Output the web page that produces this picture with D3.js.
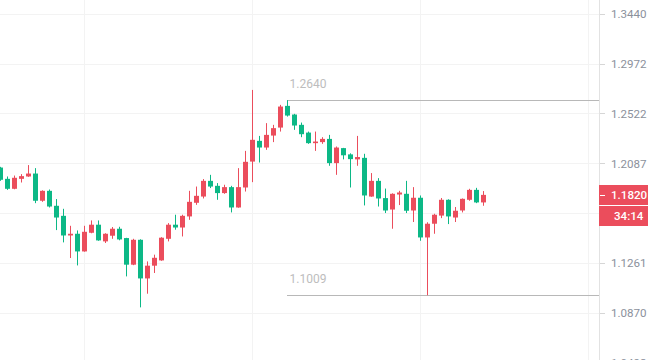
<!DOCTYPE html>
<html><head><meta charset="utf-8">
<script src="https://cdn.jsdelivr.net/npm/d3@7"></script>
<style>html,body{margin:0;padding:0;background:#fff;overflow:hidden}svg{display:block}</style>
</head><body><svg id="c" width="648" height="360"></svg>
<script>
// ---- data ----
const opens  = [1.2051,1.1955,1.1871,1.1955,1.1975,1.2000,1.1771,1.1854,1.1729,1.1646,
                1.1485,1.1499,1.1356,1.1507,1.1573,1.1437,1.1483,1.1540,1.1464,1.1250,
                1.1450,1.1141,1.1242,1.1284,1.1458,1.1573,1.1550,1.1641,1.1754,1.1806,
                1.1938,1.1896,1.1835,1.1885,1.1715,1.1882,1.2102,1.2281,1.2223,1.2327,
                1.2397,1.2589,1.2512,1.2421,1.2353,1.2261,1.2270,1.2298,1.2089,1.2218,
                1.2164,1.2121,1.2134,1.1806,1.1938,1.1793,1.1698,1.1823,1.1829,1.1690,
                1.1796,1.1469,1.1581,1.1648,1.1779,1.1632,1.1690,1.1779,1.1862,1.1757];
const highs  = [1.2057,1.1975,1.1983,1.1995,1.2072,1.2046,1.1858,1.1865,1.1785,1.1704,
                1.1564,1.1526,1.1564,1.1608,1.1608,1.1503,1.1554,1.1556,1.1466,1.1458,
                1.1454,1.1276,1.1330,1.1471,1.1586,1.1655,1.1655,1.1854,1.1890,1.1953,
                1.1989,1.1919,1.1905,1.1896,1.2046,1.2194,1.2732,1.2324,1.2436,1.2421,
                1.2598,1.2640,1.2518,1.2441,1.2362,1.2362,1.2313,1.2333,1.2232,1.2220,
                1.2173,1.2324,1.2169,1.2004,1.1961,1.1873,1.1833,1.1854,1.1938,1.1885,
                1.1815,1.1593,1.1663,1.1794,1.1783,1.1719,1.1790,1.1871,1.1879,1.1852];
const lows   = [1.1938,1.1862,1.1867,1.1924,1.1972,1.1751,1.1762,1.1715,1.1529,1.1429,
                1.1303,1.1244,1.1354,1.1503,1.1442,1.1424,1.1458,1.1446,1.1157,1.1246,
                1.0915,1.1021,1.1184,1.1281,1.1437,1.1532,1.1477,1.1613,1.1737,1.1790,
                1.1877,1.1779,1.1829,1.1674,1.1713,1.1848,1.1927,1.2094,1.2203,1.2270,
                1.2362,1.2494,1.2377,1.2313,1.2255,1.2194,1.2255,1.2066,1.1989,1.2121,
                1.1882,1.2066,1.1732,1.1804,1.1723,1.1669,1.1540,1.1735,1.1669,1.1595,
                1.1442,1.1009,1.1499,1.1627,1.1578,1.1595,1.1674,1.1771,1.1751,1.1729];
const closes = [1.1947,1.1871,1.1964,1.1978,1.2000,1.1771,1.1854,1.1723,1.1632,1.1485,
                1.1499,1.1356,1.1515,1.1573,1.1445,1.1499,1.1540,1.1453,1.1250,1.1450,
                1.1141,1.1242,1.1305,1.1467,1.1573,1.1550,1.1646,1.1762,1.1812,1.1938,
                1.1890,1.1835,1.1885,1.1715,1.1885,1.2100,1.2290,1.2223,1.2333,1.2392,
                1.2583,1.2503,1.2415,1.2339,1.2261,1.2275,1.2298,1.2089,1.2223,1.2156,
                1.2123,1.2141,1.1815,1.1938,1.1790,1.1690,1.1829,1.1840,1.1688,1.1796,
                1.1469,1.1581,1.1655,1.1779,1.1641,1.1688,1.1787,1.1862,1.1757,1.1820];
const yTickValues = [1.3440,1.2972,1.2522,1.2087,1.1666,1.1261,1.0870,1.0492];
const yTickLabels = ["1.3440","1.2972","1.2522","1.2087","1.1666","1.1261","1.0870","1.0492"];
const timeGridIdx = [12,36,60,84];
const highMarkIdx = 41, highMarkValue = 1.2640, highMarkLabel = "1.2640";
const lowMarkValue = 1.1009, lowMarkLabel = "1.1009";
const lastPrice = 1.1820, lastPriceLabel = "1.1820", countdownLabel = "34:14";

// ---- drawing ----
const W = 648, H = 360, plotRight = 599;
const UP = "#eb4d5c", DOWN = "#0cb886";
const svg = d3.select("#c");
const x = d3.scaleLinear().domain([0, 84]).range([0.5, 588.5]);
const y = d3.scaleLog().domain([1.0870, 1.3440]).range([313.2, 13.5]);
const font = "Roboto, 'Noto Sans', sans-serif";

const candles = opens.map((o, i) => ({i, o, h: highs[i], l: lows[i], c: closes[i]}));

// grid
const grid = svg.append("g");
grid.selectAll("line.h").data(yTickValues).join("line")
  .attr("x1", 0).attr("x2", plotRight)
  .attr("y1", d => Math.round(y(d)) + 0.5).attr("y2", d => Math.round(y(d)) + 0.5)
  .attr("stroke", "#f3f3f3").attr("stroke-width", 1);
grid.selectAll("line.v").data(timeGridIdx).join("line")
  .attr("x1", d => Math.floor(x(d)) + 0.5).attr("x2", d => Math.floor(x(d)) + 0.5)
  .attr("y1", 0).attr("y2", H)
  .attr("stroke", "#f3f3f3").attr("stroke-width", 1);

// high / low markers
const marks = svg.append("g");
[[highMarkValue, highMarkLabel], [lowMarkValue, lowMarkLabel]].forEach(([v, lab]) => {
  const yy = Math.round(y(v)) + 0.5;
  marks.append("line").attr("x1", Math.floor(x(highMarkIdx))).attr("x2", plotRight)
    .attr("y1", yy).attr("y2", yy).attr("stroke", "#b8b8b8").attr("stroke-width", 1);
  marks.append("text").attr("x", x(highMarkIdx) + 2).attr("y", yy - 12.5)
    .attr("font-family", font).attr("font-size", 12).attr("fill", "#bdbdbd").text(lab);
});

// candles
const cg = svg.append("g");
cg.selectAll("line.w").data(candles).join("line")
  .attr("x1", d => x(d.i)).attr("x2", d => x(d.i))
  .attr("y1", d => y(d.h)).attr("y2", d => y(d.l))
  .attr("stroke", d => d.c >= d.o ? UP : DOWN).attr("stroke-width", 1);
cg.selectAll("rect").data(candles).join("rect")
  .attr("x", d => x(d.i) - 2.5).attr("width", 5)
  .attr("y", d => y(Math.max(d.o, d.c)))
  .attr("height", d => Math.max(1, Math.abs(y(d.o) - y(d.c))))
  .attr("fill", d => d.c >= d.o ? UP : DOWN);

// right axis
const yp = y(lastPrice);
const boxTop = Math.round(yp) - 10, boxBottom = Math.round(yp) + 31;
const ax = svg.append("g");
ax.append("rect").attr("x", plotRight).attr("y", 0).attr("width", W - plotRight).attr("height", H).attr("fill", "#fff");
ax.append("line").attr("x1", plotRight + 0.5).attr("x2", plotRight + 0.5).attr("y1", 0).attr("y2", H)
  .attr("stroke", "#e2e2e2");
ax.selectAll("line.t").data(yTickValues).join("line")
  .attr("x1", plotRight + 1).attr("x2", plotRight + 6)
  .attr("y1", d => Math.round(y(d)) + 0.5).attr("y2", d => Math.round(y(d)) + 0.5)
  .attr("stroke", "#d6d6d6");
// labels hidden behind the last-price / countdown boxes are not drawn
const visibleTicks = yTickValues.map((v, i) => ({v, lab: yTickLabels[i]}))
  .filter(d => y(d.v) + 6 < boxTop || y(d.v) - 6 > boxBottom);
ax.selectAll("text.tl").data(visibleTicks).join("text")
  .attr("x", 611).attr("y", d => y(d.v) + 4.2)
  .attr("font-family", font).attr("font-size", 11.6).attr("fill", "#8b919c")
  .text(d => d.lab);

// last price box + countdown
ax.append("rect").attr("x", plotRight).attr("y", boxTop).attr("width", W - plotRight).attr("height", 20).attr("fill", UP);
ax.append("rect").attr("x", plotRight).attr("y", Math.round(yp) + 11).attr("width", W - plotRight).attr("height", 20).attr("fill", UP);
ax.append("line").attr("x1", plotRight + 1).attr("x2", plotRight + 6)
  .attr("y1", Math.round(yp) + 0.5).attr("y2", Math.round(yp) + 0.5).attr("stroke", "#fff");
ax.append("text").attr("x", 611).attr("y", yp + 4.3)
  .attr("font-family", font).attr("font-size", 11.6).attr("font-weight", 500).attr("fill", "#fff").text(lastPriceLabel);
ax.append("text").attr("x", 614).attr("y", yp + 25.3)
  .attr("font-family", font).attr("font-size", 11.6).attr("font-weight", 500).attr("fill", "#fff").text(countdownLabel);
</script></body></html>
